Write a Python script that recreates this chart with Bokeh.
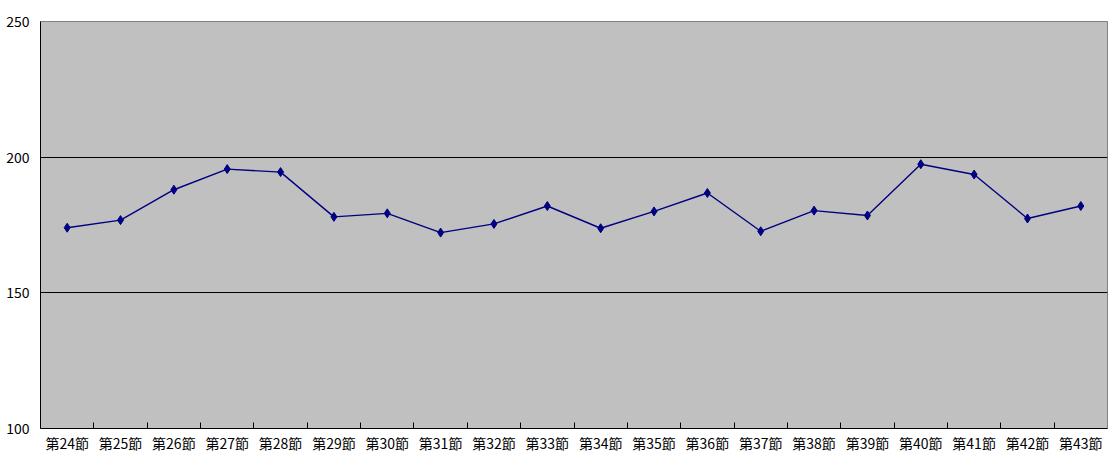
from bokeh.plotting import figure
from bokeh.models import FixedTicker, Range1d
from bokeh.embed import file_html
from bokeh.resources import INLINE

categories = ["第24節", "第25節", "第26節", "第27節", "第28節", "第29節", "第30節",
              "第31節", "第32節", "第33節", "第34節", "第35節", "第36節", "第37節",
              "第38節", "第39節", "第40節", "第41節", "第42節", "第43節"]
values = [174.0, 176.8, 188.0, 195.6, 194.5, 178.0, 179.3, 172.2, 175.4, 182.0,
          173.8, 180.0, 186.8, 172.7, 180.3, 178.5, 197.4, 193.6, 177.4, 182.0]
y_ticks = [100, 150, 200, 250]

xs = list(range(len(categories)))

p = figure(width=1111, height=455, output_backend="svg", toolbar_location=None,
           x_range=Range1d(-0.5, len(categories) - 0.5), y_range=Range1d(100, 250),
           min_border_left=40, min_border_right=4, min_border_top=21, min_border_bottom=20)

p.background_fill_color = "#C0C0C0"
p.border_fill_color = "white"
p.outline_line_color = "#808080"
p.outline_line_width = 1

p.line(xs, values, line_color="#000080", line_width=1.4)
p.scatter(xs, values, marker="diamond", size=9, fill_color="#000080", line_color="#000080")

# x axis
p.xaxis.ticker = FixedTicker(ticks=xs, minor_ticks=[i + 0.5 for i in xs[:-1]])
p.xaxis.major_label_overrides = {i: c for i, c in zip(xs, categories)}
p.xaxis.major_tick_in = 0
p.xaxis.major_tick_out = 0
p.xaxis.minor_tick_in = 6
p.xaxis.minor_tick_out = 0
p.xaxis.minor_tick_line_color = "black"
p.xaxis.axis_line_color = "black"
p.xaxis.major_label_text_font = "Noto Sans CJK JP"
p.xaxis.major_label_text_font_size = "14px"
p.xaxis.major_label_text_color = "black"
p.xaxis.major_label_standoff = 4

# y axis
p.yaxis.ticker = FixedTicker(ticks=y_ticks)
p.yaxis.major_tick_in = 0
p.yaxis.major_tick_out = 0
p.yaxis.minor_tick_line_color = None
p.yaxis.axis_line_color = "black"
p.yaxis.major_label_text_font = "Noto Sans CJK JP"
p.yaxis.major_label_text_font_size = "14px"
p.yaxis.major_label_text_color = "black"
p.yaxis.major_label_standoff = 11

p.xgrid.visible = False
p.ygrid.ticker = FixedTicker(ticks=[150, 200])
p.ygrid.grid_line_color = "black"
p.ygrid.grid_line_width = 1

open("out.html", "w").write(file_html(p, INLINE))
